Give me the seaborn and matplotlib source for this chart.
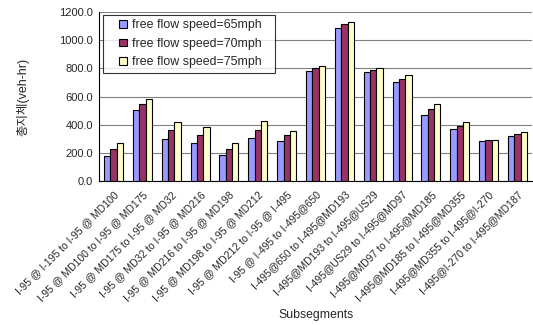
import matplotlib
matplotlib.use("Agg")
import matplotlib.pyplot as plt
from matplotlib.patches import Rectangle
from matplotlib.legend_handler import HandlerPatch
import seaborn as sns
import pandas as pd
import numpy as np

categories = [
    "I-95 @ I-195 to I-95 @ MD100",
    "I-95 @ MD100 to I-95 @ MD175",
    "I-95 @ MD175 to I-95 @ MD32",
    "I-95 @ MD32 to I-95 @ MD216",
    "I-95 @ MD216 to I-95 @ MD198",
    "I-95 @ MD198 to I-95 @ MD212",
    "I-95 @ MD212 to I-95 @ I-495",
    "I-95 @ I-495 to I-495@650",
    "I-495@650 to I-495@MD193",
    "I-495@MD193 to I-495@US29",
    "I-495@US29 to I-495@MD97",
    "I-495@MD97 to I-495@MD185",
    "I-495@MD185 to I-495@MD355",
    "I-495@MD355 to I-495@I-270",
    "I-495@I-270 to I-495@MD187",
]
series_names = ["free flow speed=65mph", "free flow speed=70mph", "free flow speed=75mph"]
v65 = [178, 503, 295, 268, 185, 302, 282, 783, 1088, 773, 704, 470, 368, 282, 318]
v70 = [225, 550, 362, 330, 228, 365, 325, 802, 1112, 787, 723, 512, 391, 289, 332]
v75 = [272, 585, 418, 385, 268, 427, 358, 816, 1131, 799, 752, 545, 420, 289, 346]
colors = ["#9999FF", "#993366", "#FFFFCC"]

rows = []
for name, vals in zip(series_names, [v65, v70, v75]):
    for c, v in zip(categories, vals):
        rows.append({"cat": c, "series": name, "val": v})
df = pd.DataFrame(rows)

sns.set_style("white")
plt.rcParams['font.family'] = ['Liberation Sans', 'Noto Sans CJK KR', 'DejaVu Sans']

fig = plt.figure(figsize=(5.33, 3.25), dpi=100)
ax = fig.add_axes([0.186, 0.443, 0.812, 0.520])

sns.barplot(data=df, x="cat", y="val", hue="series", palette=colors,
            width=0.66, edgecolor="black", linewidth=0.8, ax=ax, zorder=3,
            saturation=1)

ax.set_ylim(0, 1200)
ax.set_xlim(-0.5, len(categories) - 0.5)
ax.set_yticks(np.arange(0, 1201, 200))
ax.set_yticklabels([f"{t:.1f}" for t in np.arange(0, 1201, 200)], fontsize=8)
ax.yaxis.grid(True, color="#808080", linewidth=0.8, zorder=0)
ax.set_axisbelow(True)

ax.set_xticks(range(len(categories)))
ax.set_xticklabels(categories, rotation=45, ha="right", rotation_mode="anchor", fontsize=7.5)
ax.tick_params(axis="x", length=0, pad=6)
ax.set_xticks(np.arange(-0.5, len(categories), 1), minor=True)
ax.tick_params(axis="x", which="minor", length=4, width=0.8, color="black", direction="out")
ax.tick_params(axis="y", length=3, width=0.8, color="black", direction="out", pad=1.5)

for side in ["top", "right"]:
    ax.spines[side].set_visible(False)
for side in ["left", "bottom"]:
    ax.spines[side].set_color("black")
    ax.spines[side].set_linewidth(0.8)

ax.set_xlabel("Subsegments", fontsize=8.8, labelpad=4)
ax.set_ylabel("총지체(veh-hr)", fontsize=9, labelpad=21)


class SmallSquare(HandlerPatch):
    def create_artists(self, legend, orig_handle, xdescent, ydescent,
                       width, height, fontsize, trans):
        s = height * 0.85
        p = Rectangle((width - s - xdescent, (height - s) / 2 - ydescent), s, s,
                      facecolor=orig_handle.get_facecolor(),
                      edgecolor="black", linewidth=0.8)
        p.set_transform(trans)
        return [p]


handles, labels = ax.get_legend_handles_labels()
leg = ax.legend(handles, labels, loc="upper left", bbox_to_anchor=(0.009, 0.982, 0.398, 0.0),
                mode="expand", borderaxespad=0, fontsize=8.9,
                frameon=True, fancybox=False, edgecolor="black",
                handlelength=1.6, handleheight=0.75, handletextpad=0.4,
                borderpad=0.35, labelspacing=0.52,
                handler_map={type(handles[0]): SmallSquare()})
leg.get_frame().set_linewidth(0.8)

fig.savefig("out.png", dpi=100)
